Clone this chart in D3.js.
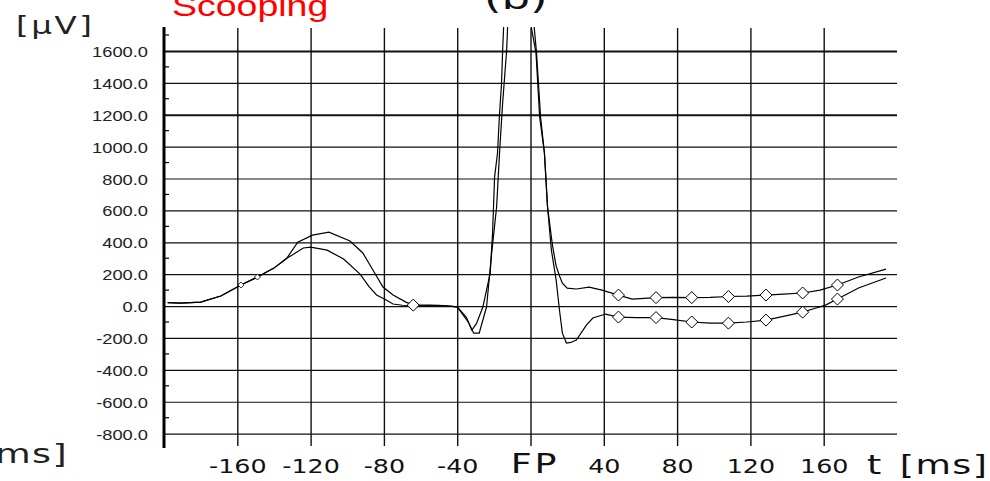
<!DOCTYPE html>
<html>
<head>
<meta charset="utf-8">
<script src="https://cdn.jsdelivr.net/npm/d3@7"></script>
<style>
  html, body { margin: 0; padding: 0; background: #fff; }
  svg { display: block; }
</style>
</head>
<body>
<div id="chart"></div>
<script>
// values
const xTicks = [-160, -120, -80, -40, 0, 40, 80, 120, 160]
const xTickLabels = ["-160", "-120", "-80", "-40", "FP", "40", "80", "120", "160"]
const yTicks = [-800, -600, -400, -200, 0, 200, 400, 600, 800, 1000, 1200, 1400, 1600]
const yMinorTicks = [-700, -500, -300, -100, 100, 300, 500, 700, 900, 1100, 1300, 1500, 1700]

// trace ending below zero after FP
const timeLow = [-198, -191, -180, -169, -158, -149, -140, -133, -130, -124, -120, -111, -102, -93, -88, -84, -79, -75, -70, -60, -50, -44, -40, -35, -32, -29.5, -26, -22, -20.7, -19.6, -18, -17, -15.8, -15.2, -14.7, -10, -6, -2, 0.5, 3, 5, 7.6, 9.3, 11.4, 14, 15.8, 17.4, 19.6, 22, 25, 30.5, 34, 41, 48, 58, 68.5, 78, 88, 98, 108, 118, 128.5, 138, 148.5, 155, 161, 167.5, 179, 194]
const valueLow = [22, 19, 25, 63, 132, 182, 238, 300, 320, 364, 370, 351, 295, 200, 120, 70, 40, 13, 5, 2, 4, 0, -5, -70, -150, -110, -6, 207, 458, 809, 960, 1186, 1399, 1606, 1744, 2400, 2600, 2300, 1744, 1587, 1186, 960, 621, 351, 163, -25, -170, -232, -228, -213, -119, -75, -50, -69, -72, -72, -85, -100, -107, -107, -100, -88, -65, -38, -15, 6, 44, 113, 176]

// trace staying above zero after FP
const timeHigh = [-198, -191, -180, -169, -158, -149, -140, -133, -127, -119, -110, -98.5, -91.5, -86, -80.5, -75, -68, -64, -55, -47, -40, -34, -31, -28, -24, -21.2, -18.5, -16.9, -15.2, -13, -12.5, -8, -4, 0, 2, 3.3, 5.5, 7.6, 9.3, 12, 14, 15.8, 17.4, 20, 25, 32, 39, 48, 55.5, 68.5, 78, 88, 98, 108, 118, 128.5, 138, 148.5, 158, 167.5, 179, 194]
const valueHigh = [22, 19, 25, 63, 132, 182, 238, 300, 401, 445, 464, 408, 333, 226, 119, 69, 25, 6, 6, 2, -5, -100, -170, -170, -6, 332, 621, 960, 1274, 1606, 1750, 2500, 2700, 2300, 1750, 1587, 1186, 960, 621, 380, 250, 190, 144, 113, 107, 119, 100, 69, 44, 53, 55, 53, 55, 60, 62, 69, 75, 82, 100, 132, 182, 232]

const markTimeHigh = [-64, 48, 68.5, 88, 108, 128.5, 148.5, 167.5]
const markValueHigh = [6, 69, 53, 53, 60, 69, 82, 132]
const markTimeLow = [48, 68.5, 88, 108, 128.5, 148.5, 167.5]
const markValueLow = [-69, -72, -100, -107, -88, -38, 44]
const smallMarkTime = [-158, -149]
const smallMarkValue = [132, 182]

const W = 990
const H = 481

const svg = d3.select("#chart")
  .append("svg")
  .attr("width", W)
  .attr("height", H)
  .style("background", "#fff")

const plotLeft = 164
const plotRight = 897
const plotTop = 27
const plotBottom = 448

const x = d3.scaleLinear().domain([-200, 200]).range([plotLeft, plotRight])
const y = d3.scaleLinear().domain([-890, 1750]).range([plotBottom, plotTop])

// horizontal grid + y labels
const yAxis = svg.append("g")
  .attr("transform", `translate(${plotLeft},0)`)
  .call(
    d3.axisLeft(y)
      .tickValues(yTicks)
      .tickSize(-(plotRight - plotLeft))
      .tickPadding(0)
      .tickFormat((d) => d.toFixed(1))
  )
yAxis.select(".domain").remove()
yAxis.selectAll(".tick line")
  .attr("stroke", "#111")
  .attr("stroke-width", (d) => (d == 1600 || d == 1200 ? 2 : 1.2))
yAxis.selectAll(".tick text")
  .attr("x", 0)
  .attr("dy", null)
  .attr("y", 5.5)
  .attr("transform", "translate(-16,0) scale(1.22,1)")
  .attr("fill", "#222")
  .style("font-family", "'Liberation Sans', Arial, sans-serif")
  .style("font-size", "15px")

// vertical grid + x labels
const gridBottom = 446
const xAxis = svg.append("g")
  .attr("transform", `translate(0,${gridBottom})`)
  .call(
    d3.axisBottom(x)
      .tickValues(xTicks)
      .tickSize(-(gridBottom - 28))
      .tickFormat((d, i) => xTickLabels[i])
  )
xAxis.select(".domain").remove()
xAxis.selectAll(".tick line")
  .attr("stroke", "#111")
  .attr("stroke-width", 1.4)
xAxis.selectAll(".tick text")
  .attr("y", 27)
  .attr("dy", null)
  .attr("fill", "#111")
  .style("font-family", "'DejaVu Sans', sans-serif")
  .style("font-size", (d) => (d == 0 ? "27px" : "19.5px"))
  .style("letter-spacing", (d) => (d == 0 ? "2px" : "0px"))
  .attr("transform", (d) => (d == 0 ? "translate(4,0) scale(1.35,1)" : "scale(1.3,1)"))

// y axis line and minor ticks
svg.append("line")
  .attr("x1", plotLeft).attr("x2", plotLeft)
  .attr("y1", plotTop).attr("y2", plotBottom)
  .attr("stroke", "#000")
  .attr("stroke-width", 3)
svg.selectAll(".minor")
  .data(yMinorTicks)
  .join("line")
  .attr("class", "minor")
  .attr("x1", plotLeft).attr("x2", plotLeft + 5)
  .attr("y1", (d) => y(d)).attr("y2", (d) => y(d))
  .attr("stroke", "#000")
  .attr("stroke-width", 1.2)

// traces
svg.append("clipPath").attr("id", "plotClip")
  .append("rect")
  .attr("x", plotLeft).attr("y", plotTop)
  .attr("width", plotRight - plotLeft).attr("height", plotBottom - plotTop)

const line = d3.line()
  .x((d) => x(d[0]))
  .y((d) => y(d[1]))

const plot = svg.append("g").attr("clip-path", "url(#plotClip)")

const traces = [d3.zip(timeLow, valueLow), d3.zip(timeHigh, valueHigh)]
plot.selectAll(".trace")
  .data(traces)
  .join("path")
  .attr("class", "trace")
  .attr("d", line)
  .attr("fill", "none")
  .attr("stroke", "#000")
  .attr("stroke-width", 1.2)

const diamond = (r) => `M0,${-r}L${r},0L0,${r}L${-r},0Z`
const marks = d3.zip(markTimeHigh, markValueHigh).concat(d3.zip(markTimeLow, markValueLow))
plot.selectAll(".mark")
  .data(marks)
  .join("path")
  .attr("class", "mark")
  .attr("d", diamond(6))
  .attr("transform", (d) => `translate(${x(d[0])},${y(d[1])})`)
  .attr("fill", "#fff")
  .attr("stroke", "#000")
  .attr("stroke-width", 1)
plot.selectAll(".smallMark")
  .data(d3.zip(smallMarkTime, smallMarkValue))
  .join("path")
  .attr("class", "smallMark")
  .attr("d", diamond(3))
  .attr("transform", (d) => `translate(${x(d[0])},${y(d[1])})`)
  .attr("fill", "#fff")
  .attr("stroke", "#000")
  .attr("stroke-width", 0.8)

// titles and unit labels
const label = (txt, tx, ty, font, size, sx, spacing, color, anchor) =>
  svg.append("text")
    .attr("transform", `translate(${tx},${ty}) scale(${sx},1)`)
    .attr("text-anchor", anchor || "start")
    .attr("fill", color)
    .style("font-family", font)
    .style("font-size", size + "px")
    .style("letter-spacing", spacing + "px")
    .style("word-spacing", "3px")
    .text(txt)

label("Scooping", 172, 16, "'Liberation Sans', Arial, sans-serif", 30, 1.25, 0, "#f00")
label("(b)", 484, 9, "'DejaVu Sans', sans-serif", 30, 1.5, 0, "#111")
label("[μV]", 16, 34, "'DejaVu Sans', sans-serif", 25, 1.3, 2, "#222")
label("t [ms]", 867, 474, "'DejaVu Sans', sans-serif", 26, 1.4, 1, "#111")
label("t [ms]", 68, 463, "'DejaVu Sans', sans-serif", 26, 1.4, 1, "#222", "end")
</script>
</body>
</html>
